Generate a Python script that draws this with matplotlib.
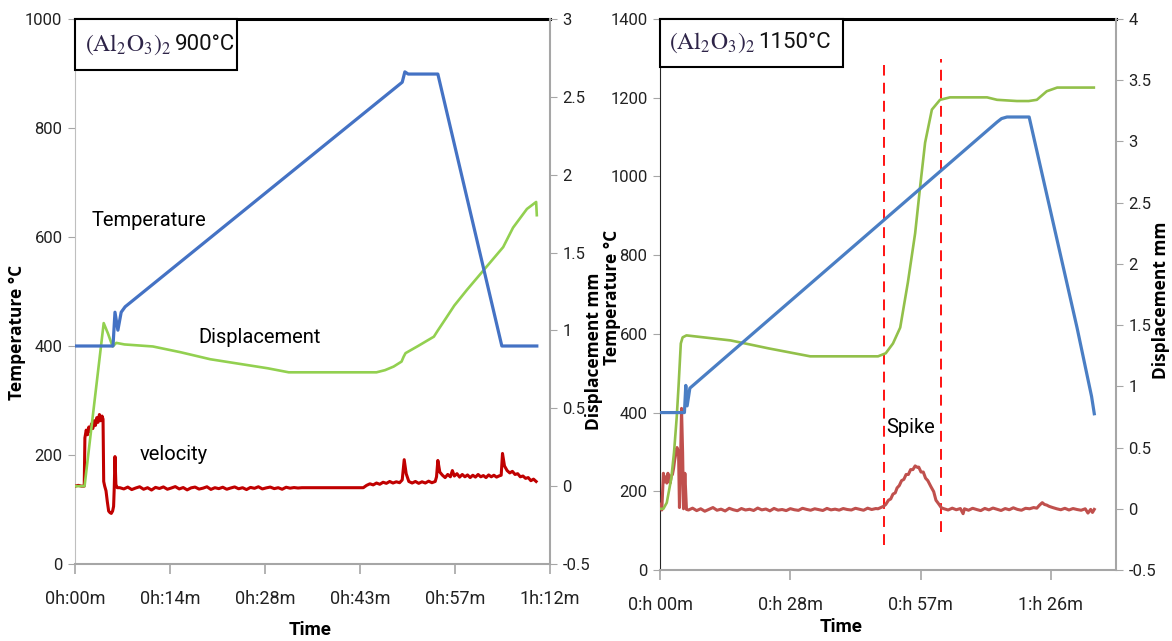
import numpy as np
import matplotlib
matplotlib.use('Agg')
from matplotlib import pyplot as plt
from matplotlib import font_manager
from matplotlib.patches import Rectangle

# time in minutes, temperature in degC, displacement / velocity in mm

# ---- (Al2O3)2 run at 900 C ----
temp_t_900 = [0, 5.76, 6.06, 6.5, 7.0, 7.6, 49.6, 50.0, 50.5, 55.0, 64.7, 70.0]
temp_v_900 = [400, 400, 462, 429, 462, 472, 884, 903, 899, 899, 400, 400]

disp_t_900 = [0, 1.45, 4.35, 5.0, 5.7, 6.26, 7.5, 11.8, 16.0, 20.5, 25.0, 29.2, 32.4,
              45.7, 47.0, 48.3, 49.5, 49.8, 50.1, 52.0, 54.4, 55.0, 56.1, 57.5, 59.4,
              62.4, 64.9, 66.4, 68.5, 69.9, 70.0]
disp_v_900 = [0, 0, 1.047, 0.98, 0.897, 0.92, 0.91, 0.897, 0.86, 0.815, 0.785, 0.757, 0.731,
              0.731, 0.745, 0.768, 0.80, 0.83, 0.854, 0.90, 0.96, 1.0, 1.07, 1.16, 1.26,
              1.41, 1.535, 1.66, 1.78, 1.825, 1.74]

vel_900 = [(0.0, 0.0), (0.5, 0.005), (1.0, 0.0), (1.4, 0.0), (1.5, 0.31), (1.7, 0.36),
           (1.9, 0.33), (2.1, 0.38), (2.3, 0.35), (2.5, 0.40), (2.7, 0.37), (2.9, 0.42),
           (3.1, 0.39), (3.3, 0.44), (3.5, 0.41), (3.7, 0.46), (3.9, 0.42), (4.1, 0.45),
           (4.25, 0.43), (4.35, 0.03), (4.5, 0.0), (4.7, -0.03), (4.9, -0.10), (5.1, -0.16),
           (5.3, -0.17), (5.5, -0.175), (5.7, -0.16), (5.85, -0.13), (5.95, -0.01),
           (6.06, 0.19), (6.2, 0.01), (6.4, -0.01),
           (6.8, -0.01), (7.4, -0.018), (8.0, -0.006), (8.6, -0.022), (9.2, -0.012),
           (9.8, -0.004), (10.4, -0.02), (11.0, -0.01), (11.6, -0.025), (12.2, -0.008),
           (12.8, -0.015), (13.4, -0.005), (14.0, -0.02), (14.6, -0.012), (15.2, -0.003),
           (15.8, -0.018), (16.4, -0.009), (17.0, -0.024), (17.6, -0.011), (18.2, -0.006),
           (18.8, -0.019), (19.4, -0.013), (20.0, -0.004), (20.6, -0.021), (21.2, -0.01),
           (21.8, -0.016), (22.4, -0.007), (23.0, -0.02), (23.6, -0.012), (24.2, -0.005),
           (24.8, -0.017), (25.4, -0.01), (26.0, -0.022), (26.6, -0.008), (27.2, -0.014),
           (27.8, -0.004), (28.4, -0.018), (29.0, -0.011), (29.6, -0.006), (30.2, -0.016),
           (30.8, -0.01), (31.4, -0.02), (32.0, -0.007), (32.6, -0.013), (33.2, -0.009),
           (33.8, -0.012), (34.4, -0.01), (43.7, -0.01),
           (44.2, 0.005), (44.7, 0.015), (45.2, 0.008), (45.7, 0.02), (46.2, 0.012),
           (46.7, 0.025), (47.2, 0.018), (47.7, 0.03), (48.2, 0.02), (48.7, 0.028),
           (49.2, 0.022), (49.6, 0.04), (49.9, 0.17), (50.2, 0.08), (50.6, 0.03),
           (51.1, 0.02), (51.6, 0.03), (52.1, 0.018), (52.6, 0.028), (53.1, 0.02),
           (53.6, 0.032), (54.1, 0.022), (54.6, 0.03), (54.8, 0.06), (55.0, 0.165),
           (55.3, 0.09), (55.7, 0.07), (56.1, 0.055), (56.5, 0.075), (56.9, 0.06),
           (57.2, 0.10), (57.5, 0.065), (57.9, 0.08), (58.3, 0.058), (58.7, 0.075),
           (59.1, 0.06), (59.5, 0.072), (59.9, 0.055), (60.3, 0.07), (60.7, 0.058),
           (61.1, 0.075), (61.5, 0.06), (61.9, 0.068), (62.3, 0.055), (62.7, 0.072),
           (63.1, 0.06), (63.5, 0.07), (63.9, 0.058), (64.3, 0.066), (64.6, 0.07),
           (64.8, 0.21), (65.1, 0.13), (65.5, 0.10), (65.9, 0.085), (66.3, 0.095),
           (66.7, 0.075), (67.1, 0.08), (67.5, 0.06), (67.9, 0.065), (68.3, 0.05),
           (68.7, 0.055), (69.1, 0.035), (69.5, 0.045), (69.9, 0.03)]

# ---- (Al2O3)2 run at 1150 C ----
temp_t_1150 = [0, 5.4, 5.7, 6.0, 6.6, 74.5, 75.5, 76.7, 81.6, 92.2, 95.4, 96.0]
temp_v_1150 = [400, 400, 469, 417, 462, 1138, 1147, 1151, 1151, 615, 441, 397]

disp_t_1150 = [0, 0.75, 1.5, 2.5, 3.1, 3.7, 4.1, 4.6, 5.0, 5.85, 15.6, 24.0, 33.2, 48.2,
               49.9, 51.5, 53.1, 54.8, 56.4, 57.5, 58.6, 60.1, 61.9, 64.1, 72.3, 74.5,
               78.9, 81.5, 83.3, 85.5, 87.8, 95.9]
disp_v_1150 = [0, 0, 0.05, 0.25, 0.46, 0.75, 1.0, 1.35, 1.40, 1.416, 1.375, 1.31, 1.245, 1.245,
               1.27, 1.35, 1.48, 1.85, 2.25, 2.63, 2.99, 3.26, 3.34, 3.36, 3.36, 3.34,
               3.33, 3.33, 3.34, 3.41, 3.44, 3.44]

vel_1150 = [(0.0, 0.035), (0.4, -0.01), (0.75, 0.29), (1.0, 0.22), (1.25, 0.26), (1.5, 0.21),
            (1.75, 0.29), (2.0, 0.24), (2.25, 0.21), (2.5, 0.27), (2.75, 0.28), (3.0, 0.33),
            (3.25, 0.40), (3.5, 0.45), (3.76, 0.50), (4.1, 0.46), (4.3, 0.01), (4.5, 0.30),
            (4.76, 0.82), (5.0, 0.46), (5.2, 0.0), (5.5, 0.29), (5.85, -0.005), (6.3, -0.01),
            (7.2, 0.005), (8.1, -0.015), (9.0, 0.0), (9.9, -0.02), (10.8, -0.005),
            (11.7, 0.01), (12.6, -0.012), (13.5, -0.003), (14.4, -0.018), (15.3, 0.004),
            (16.2, -0.008), (17.1, -0.016), (18.0, 0.002), (18.9, -0.01), (19.8, -0.004),
            (20.7, -0.014), (21.6, 0.006), (22.5, -0.009), (23.4, -0.002), (24.3, -0.017),
            (25.2, 0.003), (26.1, -0.011), (27.0, -0.006), (27.9, -0.015), (28.8, 0.001),
            (29.7, -0.008), (30.6, -0.013), (31.5, 0.004), (32.4, -0.005), (33.3, -0.012),
            (34.2, 0.0), (35.1, -0.007), (36.0, -0.014), (36.9, 0.003), (37.8, -0.009),
            (38.7, -0.003), (39.6, -0.011), (40.5, 0.002), (41.4, -0.006), (42.3, -0.01),
            (43.2, 0.004), (44.1, -0.004), (45.0, -0.012), (45.9, 0.005), (46.8, -0.006),
            (47.7, 0.002), (48.2, 0.0), (48.8, 0.01), (49.4, 0.02), (49.9, 0.035),
            (50.5, 0.07), (51.0, 0.08), (51.5, 0.12), (52.0, 0.13), (52.4, 0.17),
            (52.9, 0.19), (53.4, 0.23), (53.9, 0.24), (54.4, 0.28), (54.9, 0.28),
            (55.4, 0.32), (55.9, 0.32), (56.4, 0.35), (56.8, 0.34), (57.2, 0.34),
            (57.7, 0.30), (58.2, 0.30), (58.7, 0.25), (59.2, 0.23), (59.9, 0.18),
            (60.5, 0.14), (61.0, 0.07), (61.6, 0.04), (62.2, 0.008),
            (62.8, 0.0), (63.7, -0.01), (64.6, 0.005), (65.5, -0.008), (66.4, 0.002),
            (67.0, -0.04), (67.3, 0.0), (68.2, -0.012), (69.1, 0.004), (70.0, -0.006),
            (70.9, -0.015), (71.8, 0.003), (72.7, -0.009), (73.6, 0.006), (74.5, -0.004),
            (75.4, -0.014), (76.3, 0.002), (77.2, -0.008), (78.1, 0.008), (79.0, -0.005),
            (79.9, -0.012), (80.8, 0.004), (81.7, 0.0), (82.6, 0.01), (83.3, 0.005),
            (83.9, 0.03), (84.5, 0.05), (85.0, 0.035), (85.5, 0.03), (86.0, 0.02),
            (86.8, 0.01), (87.7, 0.0), (88.6, -0.008), (89.5, 0.004), (90.4, -0.01),
            (91.3, 0.002), (92.2, -0.006), (93.1, -0.012), (94.0, 0.0), (94.6, -0.035),
            (95.2, -0.005), (95.6, -0.03), (96.0, -0.005)]

# spike window markers (time, temperature span of the dashed line)
spike_t = [49.5, 62.2]
spike_lo = [63, 96]
spike_hi = [1283, 1298]

ticks_900 = [0, 14.4, 28.8, 43.2, 57.6, 72.0]
labels_900 = ['0h:00m', '0h:14m', '0h:28m', '0h:43m', '0h:57m', '1h:12m']
ticks_1150 = [0, 28.8, 57.6, 86.4]
labels_1150 = ['0:h 00m', '0:h 28m', '0:h 57m', '1:h 26m']

W, H = 1172, 641

names = {f.name for f in font_manager.fontManager.ttflist}
NARROW = 'Liberation Sans Narrow' if 'Liberation Sans Narrow' in names else 'Roboto'
BOLDF = 'Open Sans' if 'Open Sans' in names else 'DejaVu Sans'
plt.rcParams['mathtext.fontset'] = 'stix'

GREY = '#A6A6A6'
TICK_SIZE = 12


def px_axes(fig, x0, y0, x1, y1):
	return fig.add_axes([x0 / W, 1 - y1 / H, (x1 - x0) / W, (y1 - y0) / H])


def style(ax, axd, xmax, ticks, labels, tmax, dmax, left_col):
	ax.set_xlim(0, xmax)
	ax.set_ylim(0, tmax)
	axd.set_ylim(-0.5, dmax)
	ax.set_xticks(ticks)
	ax.set_xticklabels(labels)
	ax.set_yticks(np.arange(0, tmax + 1, 200))
	dt = np.arange(-0.5, dmax + 0.01, 0.5)
	axd.set_yticks(dt)
	axd.set_yticklabels(['%g' % v for v in dt])
	for a in (ax, axd):
		for s in a.spines.values():
			s.set_visible(False)
	ax.spines['left'].set_visible(True)
	ax.spines['left'].set_color(left_col)
	ax.spines['bottom'].set_visible(True)
	ax.spines['bottom'].set_color(GREY)
	ax.spines['bottom'].set_linewidth(1.5)
	ax.spines['top'].set_visible(True)
	ax.spines['top'].set_color('black')
	ax.spines['top'].set_linewidth(2.2)
	axd.spines['right'].set_visible(True)
	axd.spines['right'].set_color(GREY)
	axd.spines['right'].set_linewidth(1.5)
	ax.tick_params(axis='y', direction='out', length=5, color=GREY, pad=4, labelsize=TICK_SIZE)
	ax.tick_params(axis='x', direction='out', length=7, color=GREY, width=1.2, pad=12,
				   labelsize=TICK_SIZE + 1)
	axd.tick_params(axis='y', direction='out', length=5, color=GREY, pad=4, labelsize=TICK_SIZE)
	for lab in ax.get_xticklabels() + ax.get_yticklabels() + axd.get_yticklabels():
		lab.set_fontfamily(NARROW)
		lab.set_color('#222222')
	ax.patch.set_visible(False)


def title_box(ax, wfrac, hfrac, formula_x, temp_x, temp_text):
	box = Rectangle((0, 1 - hfrac), wfrac, hfrac, transform=ax.transAxes, facecolor='white',
					edgecolor='black', linewidth=1.5, zorder=10, clip_on=False)
	ax.add_patch(box)
	yc = 1 - hfrac / 2
	ax.text(formula_x, yc, r'$\mathrm{(Al_2O_3)_2}$', transform=ax.transAxes, fontsize=17,
			color='#2E2448', va='center', ha='left', zorder=11)
	ax.text(temp_x, yc, temp_text, transform=ax.transAxes, fontsize=16,
			fontfamily=NARROW, color='#111111', va='center', ha='left', zorder=11)


fig = plt.figure(figsize=(W / 100, H / 100), dpi=100)

# left panel, 900 C
ax1 = px_axes(fig, 75, 19, 550, 564)
ax2 = ax1.twinx()
style(ax1, ax2, 72, ticks_900, labels_900, 1000, 3, '#BFBFBF')
t, v = zip(*vel_900)
ax2.plot(t, v, color='#C00000', linewidth=2.2)
ax2.plot(disp_t_900, disp_v_900, color='#92D050', linewidth=1.9)
ax2.plot(temp_t_900, np.array(temp_v_900) / 1000 * 3.5 - 0.5, color='#4472C4', linewidth=2.3)
ax1.text(11.2, 631, 'Temperature', fontsize=14.5, fontfamily=NARROW, ha='center', va='center')
ax1.text(28.0, 416, 'Displacement', fontsize=14.5, fontfamily=NARROW, ha='center', va='center')
ax1.text(14.9, 200, 'velocity', fontsize=14.5, fontfamily=NARROW, ha='center', va='center')
title_box(ax1, 162 / 475, 51 / 545, 0.022, 0.21, '900°C')

# right panel, 1150 C
ax3 = px_axes(fig, 660, 19, 1116, 570)
ax4 = ax3.twinx()
style(ax3, ax4, 100.8, ticks_1150, labels_1150, 1400, 4, '#262626')
t, v = zip(*vel_1150)
ax4.plot(t, v, color='#C0504D', linewidth=2.2)
ax4.plot(disp_t_1150, disp_v_1150, color='#92C04A', linewidth=1.9)
ax4.plot(temp_t_1150, np.array(temp_v_1150) / 1400 * 4.5 - 0.5, color='#4A7EC4', linewidth=2.3)
for x, lo, hi in zip(spike_t, spike_lo, spike_hi):
	ax3.plot([x, x], [lo, hi], color='#FF0000', linewidth=1.3, dashes=(6, 4), zorder=5)
ax3.text(55.5, 363, 'Spike', fontsize=14.5, fontfamily=NARROW, ha='center', va='center')
title_box(ax3, 183 / 456, 48 / 551, 0.02, 0.215, '1150°C')

# axis titles
lab_kw = dict(rotation=90, fontsize=12.5, fontweight='bold', fontfamily=BOLDF,
			  ha='center', va='center')
fig.text(17 / W, 1 - 332 / H, 'Temperature °C', **lab_kw)
fig.text(594 / W, 1 - 351 / H, 'Displacement mm', **lab_kw)
fig.text(612 / W, 1 - 297 / H, 'Temperature °C', **lab_kw)
fig.text(1161 / W, 1 - 300 / H, 'Displacement mm', **lab_kw)
fig.text(310 / W, 1 - 630 / H, 'Time', fontsize=13.5, fontweight='bold', fontfamily=NARROW,
		 ha='center', va='center')
fig.text(841 / W, 1 - 627 / H, 'Time', fontsize=13.5, fontweight='bold', fontfamily=NARROW,
		 ha='center', va='center')

fig.savefig('out.png', dpi=100)
